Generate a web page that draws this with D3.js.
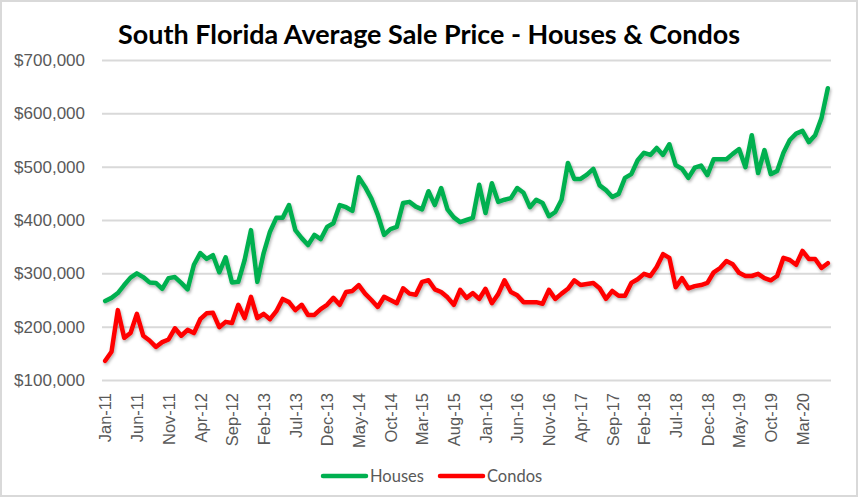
<!DOCTYPE html>
<html>
<head>
<meta charset="utf-8">
<script src="https://cdn.jsdelivr.net/npm/d3@7"></script>
<style>
  body { margin: 0; background: #fff; }
  svg { display: block; font-family: Lato, "Open Sans", sans-serif; }
  .axis text { fill: #595959; }
  .axis .domain { display: none; }
  .grid line { stroke: #d9d9d9; stroke-width: 2px; }
</style>
</head>
<body>
<div id="chart"></div>
<script>
// monthly average sale price, Jan-11 .. Jul-20 (thousands of $)
var houses = [
  248, 254, 263, 278, 292, 300, 293, 283, 282, 271, 291, 293,
  282, 270, 316, 338, 327, 334, 302, 330, 283, 284, 325, 381,
  284, 338, 378, 404, 404, 428, 381, 366, 353, 372, 364, 387,
  394, 428, 424, 417, 480, 462, 440, 410, 372, 383, 387, 432,
  434, 425, 420, 454, 428, 460, 420, 405, 396, 400, 404, 466,
  413, 469, 434, 438, 441, 460, 451, 424, 438, 432, 407, 415,
  438, 507, 477, 477, 485, 496, 465, 456, 443, 449, 479, 486,
  512, 526, 522, 535, 522, 542, 503, 496, 479, 498, 502, 484,
  514, 514, 514, 524, 533, 499, 559, 488, 531, 486, 492, 526,
  550, 562, 567, 546, 559, 591, 647
];
var condos = [
  136, 153, 231, 179, 188, 224, 183, 174, 162, 171, 176, 197,
  183, 194, 188, 214, 225, 226, 199, 209, 207, 241, 216, 256,
  216, 224, 214, 229, 252, 246, 231, 241, 222, 222, 233, 241,
  254, 241, 265, 267, 278, 262, 250, 237, 256, 250, 244, 272,
  262, 260, 284, 287, 270, 265, 255, 241, 269, 254, 263, 252,
  271, 244, 261, 287, 265, 259, 246, 246, 246, 243, 269, 252,
  262, 271, 287, 278, 280, 282, 272, 252, 267, 258, 258, 282,
  289, 299, 295, 312, 336, 329, 274, 291, 272, 276, 278, 282,
  302, 310, 323, 317, 301, 295, 295, 299, 291, 287, 295, 329,
  325, 316, 342, 327, 327, 310, 319
];
var tickLabels = ["Jan-11", "Jun-11", "Nov-11", "Apr-12", "Sep-12", "Feb-13", "Jul-13",
  "Dec-13", "May-14", "Oct-14", "Mar-15", "Aug-15", "Jan-16", "Jun-16", "Nov-16",
  "Apr-17", "Sep-17", "Feb-18", "Jul-18", "Dec-18", "May-19", "Oct-19", "Mar-20"];
var yTicks = [100000, 200000, 300000, 400000, 500000, 600000, 700000];

var fmtMonth = d3.utcFormat("%b-%y");
var months = d3.utcMonth.range(new Date(Date.UTC(2011, 0, 1)), new Date(Date.UTC(2020, 7, 1)))
  .map(function(d) { return fmtMonth(d); });

var W = 858, H = 497;
var plot = {left: 102, right: 831, top: 60, bottom: 380};

var svg = d3.select("#chart").append("svg")
    .attr("width", W)
    .attr("height", H);

// outer chart border
svg.append("rect")
    .attr("x", 1).attr("y", 1)
    .attr("width", W - 2).attr("height", H - 2)
    .attr("fill", "#fff")
    .attr("stroke", "#d9d9d9")
    .attr("stroke-width", 2);

var defs = svg.append("defs");
var shadow = defs.append("filter")
    .attr("id", "shadow")
    .attr("x", "-5%").attr("y", "-5%")
    .attr("width", "110%").attr("height", "120%");
shadow.append("feDropShadow")
    .attr("dx", 1).attr("dy", 2)
    .attr("stdDeviation", 1.5)
    .attr("flood-color", "#000")
    .attr("flood-opacity", 0.3);

var x = d3.scalePoint()
    .domain(months)
    .range([plot.left, plot.right])
    .padding(0.5);

var y = d3.scaleLinear()
    .domain([100000, 700000])
    .range([plot.bottom, plot.top]);

// title
svg.append("text")
    .attr("x", 429)
    .attr("y", 44)
    .attr("text-anchor", "middle")
    .attr("textLength", 622)
    .attr("lengthAdjust", "spacingAndGlyphs")
    .style("font-size", "26px")
    .style("font-weight", "bold")
    .style("fill", "#000")
    .text("South Florida Average Sale Price - Houses & Condos");

// y axis + horizontal grid
var yAxis = svg.append("g")
    .attr("class", "axis grid")
    .attr("transform", "translate(" + plot.left + ",0)")
    .call(d3.axisLeft(y)
      .tickValues(yTicks)
      .tickSize(-(plot.right - plot.left))
      .tickPadding(17)
      .tickFormat(d3.format("$,.0f")));
yAxis.selectAll("text").style("font-size", "17px");

// x axis labels, rotated
var xAxis = svg.append("g")
    .attr("class", "axis")
    .attr("transform", "translate(0," + plot.bottom + ")")
    .call(d3.axisBottom(x)
      .tickValues(tickLabels)
      .tickSize(0));
xAxis.selectAll("text")
    .style("font-size", "16.5px")
    .attr("text-anchor", "end")
    .attr("transform", "rotate(-90)")
    .attr("x", -13)
    .attr("y", 0)
    .attr("dy", "0.35em");

var series = [
  {name: "Houses", values: houses, color: "#00b050"},
  {name: "Condos", values: condos, color: "#ff0000"}
];

var line = d3.line()
    .x(function(d, i) { return x(months[i]); })
    .y(function(d) { return y(d * 1000); });

svg.append("g")
    .attr("filter", "url(#shadow)")
  .selectAll(".series")
    .data(series)
  .enter().append("path")
    .attr("class", "series")
    .attr("d", function(d) { return line(d.values); })
    .attr("fill", "none")
    .attr("stroke", function(d) { return d.color; })
    .attr("stroke-width", 4.5)
    .attr("stroke-linejoin", "round")
    .attr("stroke-linecap", "round");

// legend
var legendX = [323, 440];
var legend = svg.selectAll(".legend")
    .data(series)
  .enter().append("g")
    .attr("class", "legend")
    .attr("transform", function(d, i) { return "translate(" + legendX[i] + ",476)"; });
legend.append("line")
    .attr("x1", 0).attr("x2", 43)
    .attr("stroke", function(d) { return d.color; })
    .attr("stroke-width", 4.5)
    .attr("stroke-linecap", "round");
legend.append("text")
    .attr("x", 47)
    .attr("dy", "0.35em")
    .style("font-size", "16.5px")
    .style("fill", "#595959")
    .text(function(d) { return d.name; });
</script>
</body>
</html>
